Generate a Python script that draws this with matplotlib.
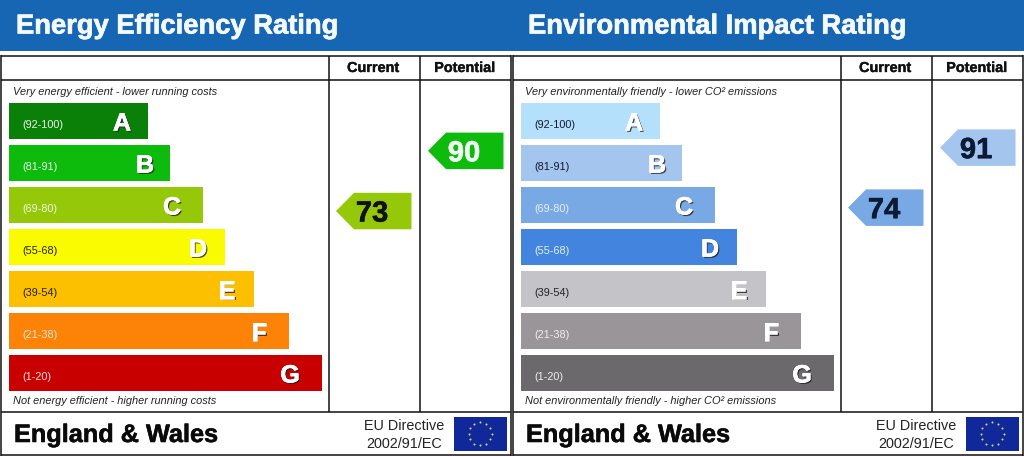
import matplotlib
matplotlib.use("Agg")
import matplotlib.pyplot as plt
import matplotlib.patheffects as pe
from matplotlib.patches import Rectangle, Polygon
import numpy as np

plt.rcParams['font.family'] = ['Liberation Sans', 'DejaVu Sans']

letters = ['A', 'B', 'C', 'D', 'E', 'F', 'G']
ranges = ['(92-100)', '(81-91)', '(69-80)', '(55-68)', '(39-54)', '(21-38)', '(1-20)']
bar_lengths = [139, 161, 194, 216, 245, 280, 313]

energy_colors = ['#0a8009', '#0dbb0d', '#96c80a', '#fbfb00', '#fdc000', '#fd8208', '#c80000']
energy_range_colors = ['#e8f5e8', '#e8f5e8', '#f0f6e0', '#222200', '#222200', '#fbe8d0', '#f5dede']
env_colors = ['#b5e0fb', '#a3c5ee', '#78a9e4', '#4284de', '#c4c3c8', '#9a9599', '#6b696c']
env_range_colors = ['#111a33', '#111a33', '#e8f0fa', '#e8f0fa', '#222222', '#eeeeee', '#eeeeee']

panels = [
    dict(title='Energy Efficiency Rating', top='Very energy efficient - lower running costs',
         bottom='Not energy efficient - higher running costs',
         colors=energy_colors, range_colors=energy_range_colors,
         current=73, potential=90, cur_top=192.8, pot_top=132.6, cur_x=336,
         cur_color='#96c80a', pot_color='#0dbb0d', cur_text='#111111', pot_text='#f4fff4'),
    dict(title='Environmental Impact Rating', top='Very environmentally friendly - lower CO\u00b2 emissions',
         bottom='Not environmentally friendly - higher CO\u00b2 emissions',
         colors=env_colors, range_colors=env_range_colors,
         current=74, potential=91, cur_top=189.4, pot_top=129.4, cur_x=336,
         cur_color='#78a9e4', pot_color='#a3c5ee', cur_text='#0d1a33', pot_text='#0d1a33'),
]

letter_offsets = [26, 25, 31, 27, 27, 30, 32]
bar_h = 36.5

fig = plt.figure(figsize=(10.24, 4.57), dpi=100)
ax = fig.add_axes([0, 0, 1, 1])
ax.set_xlim(0, 1024)
ax.set_ylim(457, 0)
ax.axis('off')

ax.add_patch(Rectangle((0, 0), 1024, 51, fc='#1766b4', ec='none'))


def line(x0, y0, x1, y1, lw=1.1):
    ax.plot([x0, x1], [y0, y1], color='#111111', lw=lw, solid_capstyle='butt')


def fat(color, w=0.5):
    return [pe.withStroke(linewidth=w, foreground=color)]


for i, p in enumerate(panels):
    ox = 512 * i
    ax.text(16 + ox, 33.5, p['title'], color='#f4f9fd', fontsize=19.7, fontweight='bold', va='baseline', ha='left',
            path_effects=fat('#f4f9fd'))
    # frame
    line(ox + 1, 56, ox + 511, 56)
    line(ox + 1, 79.5, ox + 511, 79.5)
    line(ox + 1, 411.5, ox + 511, 411.5)
    line(ox + 1, 455.3, ox + 511, 455.3)
    line(ox + 0.8, 55.3, ox + 0.8, 456)
    line(ox + 511.2, 55.3, ox + 511.2, 456)
    line(ox + 328.5, 56, ox + 328.5, 411.5)
    line(ox + 419.5, 56, ox + 419.5, 411.5)
    ax.text(ox + 373, 72, 'Current', fontsize=10.4, fontweight='bold', ha='center', va='baseline', color='#111111',
            path_effects=fat('#111111', 0.25))
    ax.text(ox + 464.5, 72, 'Potential', fontsize=10.4, fontweight='bold', ha='center', va='baseline', color='#111111',
            path_effects=fat('#111111', 0.25))
    ax.text(ox + 13, 95, p['top'], fontsize=7.9, style='italic', va='baseline', color='#222222')
    ax.text(ox + 13, 404.5, p['bottom'], fontsize=7.9, style='italic', va='baseline', color='#222222')
    for j, L in enumerate(letters):
        ln = bar_lengths[j]
        by = 102.5 + 42 * j
        ax.add_patch(Rectangle((ox + 9, by), ln, bar_h, fc=p['colors'][j], ec='none'))
        ax.text(ox + 22, by + 26, ranges[j], fontsize=7.8, color=p['range_colors'][j], va='baseline', ha='left')
        ax.text(ox + 9 + ln - letter_offsets[j], by + 28, L, fontsize=18, fontweight='bold', color='white',
                ha='center', va='baseline',
                path_effects=[pe.withSimplePatchShadow(offset=(1, -1), shadow_rgbFace='#222222', alpha=0.8),
                              pe.withStroke(linewidth=0.4, foreground='white')])
    # arrows
    for col_x, val, y0, col, tc in [(336, p['current'], p['cur_top'], p['cur_color'], p['cur_text']),
                                    (428, p['potential'], p['pot_top'], p['pot_color'], p['pot_text'])]:
        y1 = y0 + 36.5
        ym = (y0 + y1) / 2
        xs = ox + col_x
        ax.add_patch(Polygon([(xs, ym), (xs + 18, y0), (xs + 75.5, y0), (xs + 75.5, y1), (xs + 18, y1)],
                             closed=True, fc=col, ec='none'))
        ax.text(xs + 36, ym + 10.5, str(val), fontsize=21, fontweight='bold', color=tc, ha='center', va='baseline',
                path_effects=fat(tc, 0.4))
    # footer
    ax.text(ox + 14, 442, 'England & Wales', fontsize=18.2, fontweight='bold', va='baseline', color='#0a0a0a',
            path_effects=fat('#0a0a0a', 0.4))
    ax.text(ox + 404.5, 430, 'EU Directive', fontsize=10.4, ha='center', va='baseline', color='#222222')
    ax.text(ox + 404.5, 447.5, '2002/91/EC', fontsize=10.4, ha='center', va='baseline', color='#222222')
    # flag
    ax.add_patch(Rectangle((ox + 453.7, 416.8), 53, 34, fc='#10289a', ec='none'))
    t = np.arange(12) * np.pi / 6
    ax.scatter(ox + 480 + 11.5 * np.cos(t), 433.7 + 11.5 * np.sin(t), marker='o', s=2.2, color='#d8d860', linewidths=0)

fig.savefig('out.png', dpi=100, facecolor='white')
